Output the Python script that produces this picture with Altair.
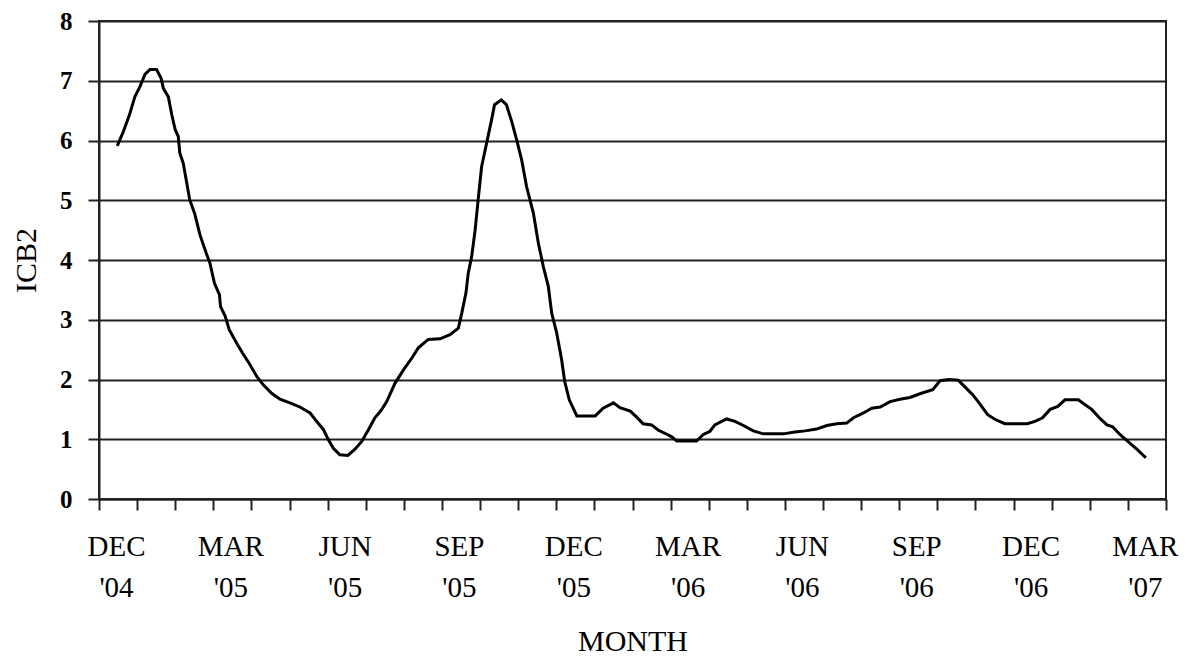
import json
import altair as alt
import pandas as pd

# month index (0 = DEC '04 band start); points sit inside monthly bands
month_pos = [0.48, 0.64, 0.80, 0.94, 1.08, 1.21, 1.34, 1.51, 1.63, 1.69, 1.82, 1.91, 2.00,
             2.08, 2.12, 2.21, 2.30, 2.38, 2.51, 2.65, 2.81, 2.91, 3.03, 3.16, 3.19, 3.31,
             3.42, 3.61, 3.77, 3.96, 4.14, 4.31, 4.53, 4.75, 5.01, 5.27, 5.54, 5.71, 5.89,
             6.02, 6.15, 6.32, 6.53, 6.71, 6.89, 7.07, 7.24, 7.40, 7.55, 7.77, 7.99, 8.21,
             8.38, 8.64, 8.95, 9.21, 9.43, 9.52, 9.63, 9.69, 9.78, 9.87, 9.95, 10.04, 10.19,
             10.30, 10.38, 10.56, 10.69, 10.83, 10.96, 11.09, 11.22, 11.40, 11.53, 11.66,
             11.79, 11.88, 12.01, 12.14, 12.22, 12.34, 12.54, 12.80, 13.02, 13.23, 13.50,
             13.67, 13.94, 14.11, 14.28, 14.50, 14.68, 14.85, 15.03, 15.16, 15.42, 15.68,
             15.86, 16.03, 16.16, 16.47, 16.69, 16.91, 17.17, 17.43, 17.69, 17.96, 18.26,
             18.53, 18.83, 19.10, 19.36, 19.62, 19.80, 20.06, 20.28, 20.50, 20.76, 21.02,
             21.28, 21.58, 21.88, 22.07, 22.30, 22.55, 22.67, 22.92, 23.07, 23.32, 23.52,
             23.77, 24.06, 24.36, 24.56, 24.76, 24.96, 25.16, 25.35, 25.70, 25.85, 26.05,
             26.25, 26.45, 26.60, 26.79, 26.99, 27.24, 27.47]
icb2 = [5.91, 6.15, 6.43, 6.73, 6.91, 7.11, 7.19, 7.19, 7.04, 6.87, 6.73, 6.43, 6.18,
        6.07, 5.79, 5.62, 5.30, 5.01, 4.78, 4.42, 4.12, 3.95, 3.61, 3.42, 3.22, 3.06,
        2.83, 2.61, 2.44, 2.25, 2.05, 1.91, 1.77, 1.67, 1.61, 1.54, 1.44, 1.30, 1.16,
        0.99, 0.85, 0.74, 0.73, 0.83, 0.96, 1.16, 1.36, 1.48, 1.63, 1.94, 2.16, 2.36,
        2.53, 2.67, 2.68, 2.75, 2.86, 3.11, 3.45, 3.78, 4.06, 4.50, 5.01, 5.56, 6.01,
        6.34, 6.60, 6.68, 6.60, 6.32, 6.01, 5.68, 5.23, 4.78, 4.28, 3.89,
        3.56, 3.11, 2.78, 2.33, 1.97, 1.66, 1.39, 1.39, 1.39, 1.52, 1.61,
        1.53, 1.47, 1.37, 1.26, 1.24, 1.15, 1.10, 1.04, 0.97, 0.97, 0.97,
        1.08, 1.13, 1.24, 1.34, 1.30, 1.23, 1.14, 1.09, 1.09, 1.09, 1.12,
        1.14, 1.17, 1.23, 1.26, 1.27, 1.36, 1.44, 1.52, 1.54, 1.63, 1.67,
        1.70, 1.77, 1.83, 1.98, 2.00, 1.99, 1.91, 1.75, 1.63, 1.41, 1.33,
        1.26, 1.26, 1.26, 1.30, 1.36, 1.50, 1.55, 1.66, 1.66, 1.59, 1.50,
        1.36, 1.24, 1.21, 1.08, 0.97, 0.83, 0.69]

tick_months = list(range(29))
tick_labels = [["DEC", "'04"], ["MAR", "'05"], ["JUN", "'05"], ["SEP", "'05"],
               ["DEC", "'05"], ["MAR", "'06"], ["JUN", "'06"], ["SEP", "'06"],
               ["DEC", "'06"], ["MAR", "'07"]]
y_ticks = list(range(9))

df = pd.DataFrame({"m": month_pos, "v": icb2})

label_expr = ("datum.value % 3 == 0 && datum.value < 28 ? "
              + json.dumps(tick_labels) + "[datum.value / 3] : ''")

serif = "Liberation Serif"

chart = alt.Chart(df).mark_line(color="black", strokeWidth=3).encode(
    x=alt.X("m:Q",
            scale=alt.Scale(domain=[0, 28], nice=False, zero=False),
            axis=alt.Axis(values=tick_months, labelExpr=label_expr, title="MONTH",
                          grid=False, tickSize=11, tickWidth=2, tickColor="#222",
                          domainColor="#222", domainWidth=2,
                          labelOffset=17, labelFlush=False, labelOverlap=False,
                          labelBound=False,
                          labelFont=serif, labelFontSize=29, labelColor="black",
                          labelPadding=22, labelLineHeight=41,
                          titleFont=serif, titleFontSize=30, titleFontWeight="normal",
                          titleColor="black", titlePadding=24)),
    y=alt.Y("v:Q",
            scale=alt.Scale(domain=[0, 8], nice=False),
            axis=alt.Axis(values=y_ticks, title="ICB2", grid=True, gridColor="#222",
                          gridWidth=2, gridOpacity=1, tickSize=11, tickWidth=2,
                          tickColor="#222", domainColor="#222", domainWidth=2,
                          labelFont=serif, labelFontSize=25, labelFontWeight="bold",
                          labelColor="black", labelPadding=16,
                          titleFont=serif, titleFontSize=30, titleFontWeight="normal",
                          titleColor="black", titlePadding=18)),
).properties(
    width=1067, height=478,
    autosize=alt.AutoSizeParams(type="none"),
    padding={"left": 91, "top": 13, "right": 19, "bottom": 158},
).configure_view(stroke="#222", strokeWidth=2)

chart.save("out.html", embed_options={"renderer": "svg", "actions": False})
